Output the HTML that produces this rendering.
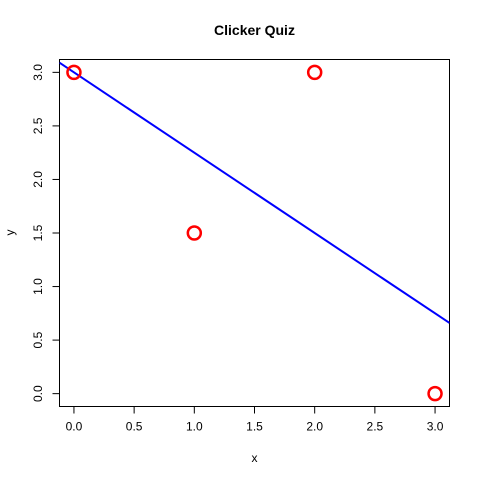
<!DOCTYPE html>
<html><head><meta charset="utf-8"><style>
html,body{margin:0;padding:0;background:#fff;}
svg{display:block;font-family:"Liberation Sans",Arial,sans-serif;}
</style></head><body>
<svg id="chart" width="480" height="480" viewBox="0 0 480 480">
<rect width="480" height="480" fill="#fff"/>
<text x="254.5" y="35" text-anchor="middle" font-size="14" font-weight="bold">Clicker Quiz</text>
<rect x="59.5" y="59.5" width="390" height="347" fill="none" stroke="#000" stroke-width="1"/>
<g id="xaxis"></g>
<g id="yaxis"></g>
<text x="254.5" y="462" text-anchor="middle" font-size="12">x</text>
<text x="14" y="232.5" text-anchor="middle" font-size="12" transform="rotate(-90 14 232.5)">y</text>
<g id="marks"></g>
</svg>
<script>
const xValues = [0, 1, 2, 3];
const yValues = [3, 1.5, 3, 0];
const xTicks = [0, 0.5, 1, 1.5, 2, 2.5, 3];
const yTicks = [0, 0.5, 1, 1.5, 2, 2.5, 3];
const xTickLabels = ["0.0","0.5","1.0","1.5","2.0","2.5","3.0"];
const yTickLabels = ["0.0","0.5","1.0","1.5","2.0","2.5","3.0"];
const fitIntercept = 3;
const fitSlope = -0.75;

const NS = "http://www.w3.org/2000/svg";
const px0 = 59.5, px1 = 449.5, py0 = 59.5, py1 = 406.5;
const xMin = -0.12, xMax = 3.12, yMin = -0.12, yMax = 3.12;
const sx = v => px0 + (v - xMin) / (xMax - xMin) * (px1 - px0);
const sy = v => py1 - (v - yMin) / (yMax - yMin) * (py1 - py0);
function mk(tag, attrs, parent){const e=document.createElementNS(NS,tag);for(const k in attrs)e.setAttribute(k,attrs[k]);parent.appendChild(e);return e;}

const xa = document.getElementById("xaxis");
mk("line",{x1:sx(xTicks[0]),x2:sx(xTicks[xTicks.length-1]),y1:py1,y2:py1,stroke:"#000"},xa);
xTicks.forEach((t,i)=>{
  const l=mk("line",{x1:sx(t),x2:sx(t),y1:py1,y2:py1+7,stroke:"#000"},xa);
  
  
  const tx=mk("text",{x:sx(t),y:py1+24,"text-anchor":"middle","font-size":"12"},xa);
  tx.textContent=xTickLabels[i];
  
  
});
const ya = document.getElementById("yaxis");
mk("line",{x1:px0,x2:px0,y1:sy(yTicks[0]),y2:sy(yTicks[yTicks.length-1]),stroke:"#000"},ya);
yTicks.forEach((t,i)=>{
  const l=mk("line",{x1:px0-7,x2:px0,y1:sy(t),y2:sy(t),stroke:"#000"},ya);
  
  
  const X=42, Y=sy(t);
  const tx=mk("text",{x:X,y:Y,"text-anchor":"middle","font-size":"12",transform:`rotate(-90 ${X} ${Y})`},ya);
  tx.textContent=yTickLabels[i];
  
  
});

const marks = document.getElementById("marks");
const clip = mk("clipPath",{id:"pc"},marks);
mk("rect",{x:px0,y:py0,width:px1-px0,height:py1-py0},clip);
const line = mk("line",{x1:px0,y1:sy(fitIntercept+fitSlope*xMin),x2:px1,y2:sy(fitIntercept+fitSlope*xMax),stroke:"#0000ff","stroke-width":"2","clip-path":"url(#pc)"},marks);


xValues.forEach((v,i)=>{
  const c=mk("circle",{cx:sx(v),cy:sy(yValues[i]),r:6.5,fill:"none",stroke:"#ff0000","stroke-width":"2.5"},marks);
  
  
});
</script>
</body></html>
